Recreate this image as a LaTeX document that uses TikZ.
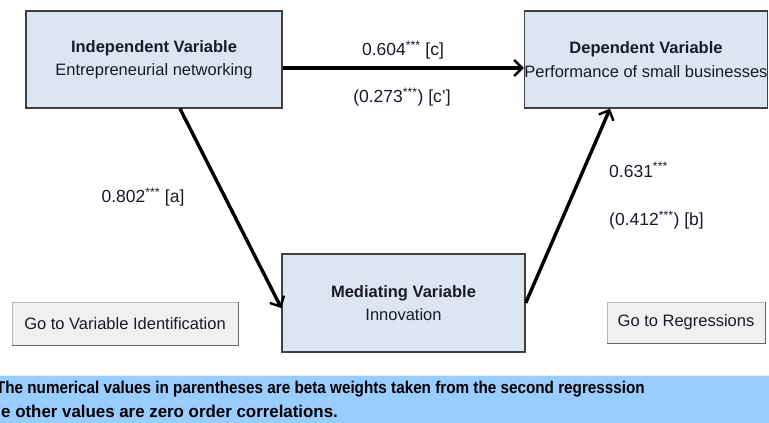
\documentclass[tikz,border=0pt]{standalone}
\usepackage{fontspec}
\usepackage{graphicx}
\setmainfont{Liberation Sans}
\usetikzlibrary{arrows.meta}
\definecolor{boxfill}{HTML}{DCE6F2}
\definecolor{boxdraw}{HTML}{404040}
\definecolor{band}{HTML}{99CCFF}
\definecolor{btnfill}{HTML}{F0F0F0}
\definecolor{txt}{HTML}{1A1A2A}
\begin{document}
\begin{tikzpicture}[x=1pt,y=-1pt,
  varbox/.style={draw=boxdraw,line width=1.4pt,fill=boxfill,inner sep=0pt,align=center,
    text=txt,font=\fontsize{16.5}{23.5}\selectfont},
  btn/.style={draw=gray!55,line width=0.8pt,fill=btnfill,inner sep=0pt,text=txt,
    font=\fontsize{16.5}{20}\selectfont},
  btnshade/.style={draw=gray!30!black!70,line width=1.6pt},
  link/.style={line width=3.4pt,-{Straight Barb[length=8pt,width=16pt,line width=2.4pt]}},
  lbl/.style={inner sep=0pt,text=txt,font=\fontsize{17.5}{20}\selectfont},
  note/.style={inner sep=0pt,text=black,font=\bfseries\fontsize{15.2}{18}\selectfont}]
\useasboundingbox (0,0) rectangle (769,423);
\fill[white] (0,0) rectangle (769,423);

% variable boxes
\node[varbox,minimum width=256pt,minimum height=97pt] (iv) at (154,59.5)
  {\textbf{Independent Variable}\\Entrepreneurial networking};
\node[varbox,minimum width=242pt,minimum height=97pt] (dv) at (646,59.5)
  {\textbf{Dependent Variable}\\Performance of small businesses};
\node[varbox,minimum width=243pt,minimum height=98pt] (mv) at (403.5,303)
  {\textbf{Mediating Variable}\\Innovation};

% connectors
\draw[link] ([yshift=-8.5pt]iv.east) -- ([yshift=-8.5pt]dv.west);
\draw[link] ([xshift=26pt]iv.south) -- ([yshift=-5pt]mv.west);
\draw[link] (mv.east) -- ([xshift=-36pt]dv.south);

% labels
\node[lbl] (lc) at (403,50) {0.604\textsuperscript{***} [c]};
\node[lbl] (lcp) at (402,97) {(0.273\textsuperscript{***}) [c']};
\node[lbl] (la) at (143,197) {0.802\textsuperscript{***} [a]};
\node[lbl,anchor=west] (lb1) at (609,170) {0.631\textsuperscript{***}};
\node[lbl,anchor=west] (lb2) at (609,220) {(0.412\textsuperscript{***}) [b]};

% buttons
\node[btn,minimum width=226pt,minimum height=43pt] (b1) at (125,323.5) {Go to Variable Identification};
\draw[btnshade] (b1.north east) -- (b1.south east) -- (b1.south west);
\node[btn,minimum width=158pt,minimum height=41pt] (b2) at (686,322.5) {Go to Regressions};
\draw[btnshade] (b2.north east) -- (b2.south east) -- (b2.south west);

% note band
\begin{scope}
\clip (0,0) rectangle (769,423);
\fill[band] (0,375) rectangle (769,423);
\draw[white!70!band,line width=1pt] (0,375.5) -- (769,375.5);
\node[note,anchor=base east] (n1) at (645,393)
  {\scalebox{1.004}[1.12]{The numerical values in parentheses are beta weights taken from the second regresssion}};
\node[note,anchor=base west] (n2) at (-19.6,417)
  {\scalebox{1.11}[1.12]{The other values are zero order correlations.}};
\end{scope}
\end{tikzpicture}
\end{document}
